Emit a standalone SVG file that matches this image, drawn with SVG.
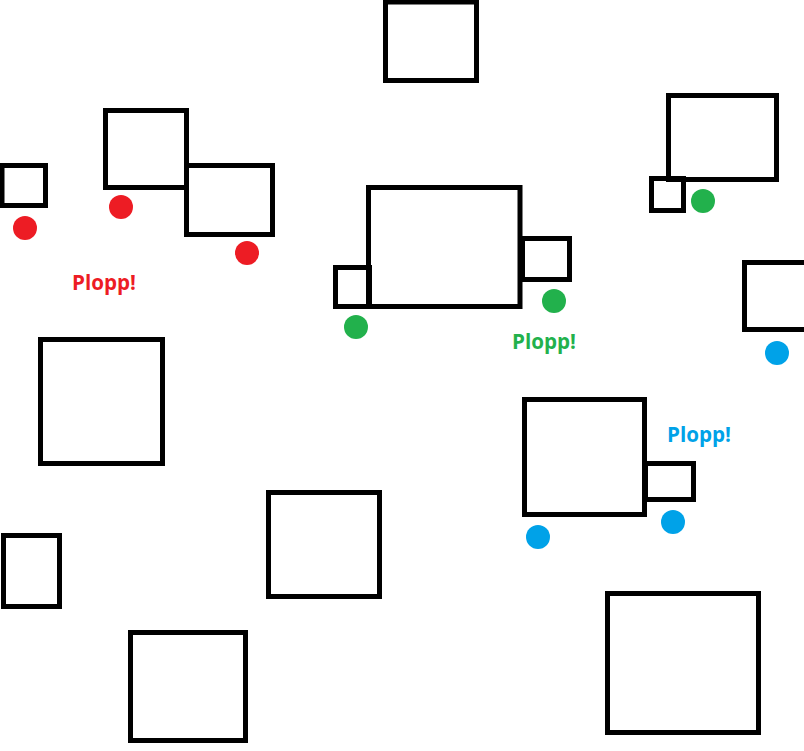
<svg xmlns="http://www.w3.org/2000/svg" width="804" height="751" viewBox="0 0 804 751">
<style>
.b{fill:none;stroke:#000;stroke-width:5}
.r{fill:#ED1C24}
.g{fill:#22B14C}
.u{fill:#00A2E8}
.t{font-family:"Open Sans","Liberation Sans",sans-serif;font-weight:bold;font-size:21px}
</style>
<rect width="804" height="751" fill="#fff"/>
<g id="n1"><rect class="b" x="385.5" y="2" width="91" height="78.5"/></g>
<g id="n2"><rect class="b" x="2" y="165.5" width="43.5" height="40"/></g>
<g id="n3"><rect class="b" x="105.5" y="110.5" width="81" height="77"/></g>
<g id="n4"><rect class="b" x="186.5" y="165.5" width="86" height="69"/></g>
<g id="n5"><rect class="b" x="368.5" y="187.5" width="151.5" height="119"/></g>
<g id="n6"><rect class="b" x="335.5" y="267.5" width="34" height="39"/></g>
<g id="n7"><rect class="b" x="522.5" y="238.5" width="47" height="41"/></g>
<g id="n8"><rect class="b" x="668.5" y="95.5" width="108" height="84"/></g>
<g id="n9"><rect class="b" x="651.5" y="178.5" width="32" height="32"/></g>
<g id="n10"><rect class="b" x="744.5" y="262.5" width="70" height="67"/></g>
<g id="n11"><rect class="b" x="40.5" y="339.5" width="122" height="124"/></g>
<g id="n12"><rect class="b" x="524.5" y="399.5" width="120" height="115"/></g>
<g id="n13"><rect class="b" x="645.5" y="463.5" width="48" height="36"/></g>
<g id="n14"><rect class="b" x="3.5" y="535.5" width="56" height="71"/></g>
<g id="n15"><rect class="b" x="268.5" y="492.5" width="111" height="104"/></g>
<g id="n16"><rect class="b" x="130.5" y="632.5" width="115" height="108"/></g>
<g id="n17"><rect class="b" x="607.5" y="593.5" width="151" height="139"/></g>
<g id="dots">
<circle class="r" cx="25" cy="228" r="12"/>
<circle class="r" cx="121" cy="207" r="12"/>
<circle class="r" cx="247" cy="253" r="12"/>
<circle class="g" cx="356" cy="327" r="12"/>
<circle class="g" cx="554" cy="301" r="12"/>
<circle class="g" cx="703" cy="201" r="12"/>
<circle class="u" cx="777" cy="353" r="12"/>
<circle class="u" cx="538" cy="537" r="12"/>
<circle class="u" cx="673" cy="522" r="12"/>
</g>
<g id="labels">
<text class="t r" x="72" y="290" textLength="64" lengthAdjust="spacingAndGlyphs">Plopp!</text>
<text class="t g" x="512" y="349" textLength="64" lengthAdjust="spacingAndGlyphs">Plopp!</text>
<text class="t u" x="667" y="442" textLength="64" lengthAdjust="spacingAndGlyphs">Plopp!</text>
</g>
<g id="connectors"/>
</svg>
